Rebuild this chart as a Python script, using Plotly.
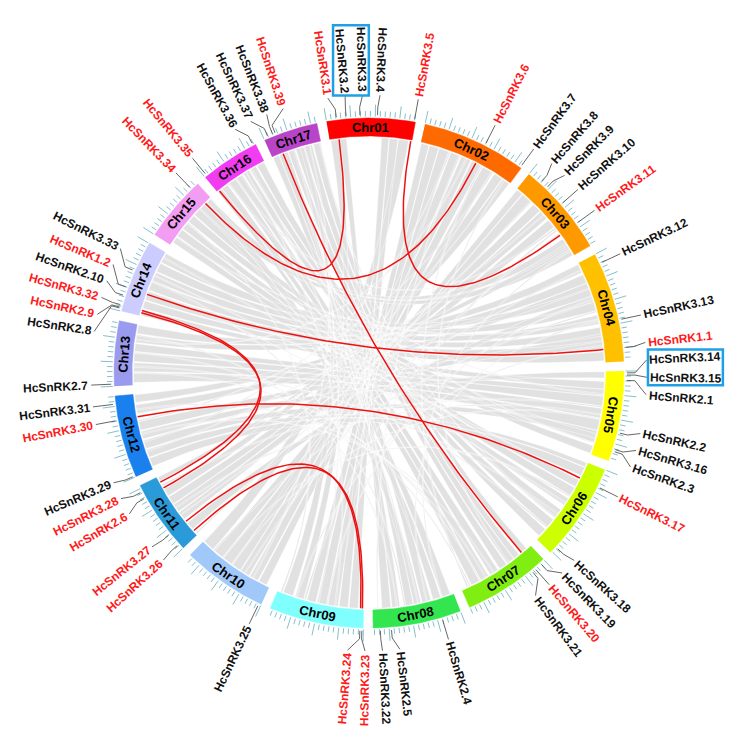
import math
import plotly.graph_objects as go

# ---------------- data ----------------
chrom_names = ["Chr01", "Chr02", "Chr03", "Chr04", "Chr05", "Chr06", "Chr07", "Chr08", "Chr09",
               "Chr10", "Chr11", "Chr12", "Chr13", "Chr14", "Chr15", "Chr16", "Chr17"]
chrom_lengths_mb = [36.5, 43.5, 38.7, 45.6, 37.3, 40.7, 36.2, 36.5, 39.1,
                    35.5, 31.1, 34.2, 26.9, 30.2, 27.3, 24.7, 22.5]
chrom_colors = ["#ff0000", "#ff6a00", "#ff9900", "#ffc000", "#ffff00", "#ccff00", "#80ee10", "#33e650", "#80ffff",
                "#a0c8f8", "#2a9ad8", "#1a80ee", "#9a9aee", "#ccccff", "#f29cf2", "#f23cf2", "#b845c8"]

gene_names = ["HcSnRK3.1", "HcSnRK3.2", "HcSnRK3.3", "HcSnRK3.4", "HcSnRK3.5",
              "HcSnRK3.6", "HcSnRK3.7",
              "HcSnRK3.8", "HcSnRK3.9", "HcSnRK3.10", "HcSnRK3.11",
              "HcSnRK3.12", "HcSnRK3.13", "HcSnRK1.1",
              "HcSnRK3.14", "HcSnRK3.15", "HcSnRK2.1", "HcSnRK2.2", "HcSnRK3.16", "HcSnRK2.3",
              "HcSnRK3.17", "HcSnRK3.18",
              "HcSnRK3.19", "HcSnRK3.20", "HcSnRK3.21",
              "HcSnRK2.4", "HcSnRK2.5", "HcSnRK3.22",
              "HcSnRK3.23", "HcSnRK3.24",
              "HcSnRK3.25",
              "HcSnRK3.26", "HcSnRK3.27", "HcSnRK2.6", "HcSnRK3.28",
              "HcSnRK3.29", "HcSnRK3.30", "HcSnRK3.31",
              "HcSnRK2.7",
              "HcSnRK2.8", "HcSnRK2.9", "HcSnRK3.32", "HcSnRK2.10", "HcSnRK1.2", "HcSnRK3.33",
              "HcSnRK3.34",
              "HcSnRK3.35", "HcSnRK3.36",
              "HcSnRK3.37", "HcSnRK3.38", "HcSnRK3.39"]
gene_chroms = ["Chr01"] * 5 + ["Chr02"] * 2 + ["Chr03"] * 4 + ["Chr04"] * 3 + ["Chr05"] * 6 + \
              ["Chr06"] * 2 + ["Chr07"] * 3 + ["Chr08"] * 3 + ["Chr09"] * 2 + ["Chr10"] + \
              ["Chr11"] * 4 + ["Chr12"] * 3 + ["Chr13"] + ["Chr14"] * 6 + ["Chr15"] + \
              ["Chr16"] * 2 + ["Chr17"] * 3
gene_pos_mb = [4.2, 8.2, 13.8, 20.9, 36.0,
               26.0, 43.0,
               5.8, 9.1, 18.0, 28.0,
               4.2, 28.5, 40.0,
               0.7, 1.6, 3.8, 25.3, 32.2, 33.1,
               7.6, 37.6,
               2.0, 5.1, 6.7,
               8.0, 29.1, 33.6,
               0.6, 1.4,
               1.0,
               2.4, 7.8, 25.6, 28.5,
               0.5, 24.2, 30.9,
               0.9,
               1.1, 1.5, 2.5, 6.5, 10.0, 17.3,
               24.0,
               1.0, 23.6,
               1.8, 4.0, 5.1]

# segmental duplication pairs (red links)
red_links = [("HcSnRK3.1", "HcSnRK3.35"), ("HcSnRK3.5", "HcSnRK3.11"), ("HcSnRK3.6", "HcSnRK3.34"),
             ("HcSnRK3.39", "HcSnRK3.20"), ("HcSnRK1.2", "HcSnRK1.1"), ("HcSnRK3.32", "HcSnRK3.28"),
             ("HcSnRK2.9", "HcSnRK2.6"), ("HcSnRK3.30", "HcSnRK3.17"), ("HcSnRK3.27", "HcSnRK3.24"),
             ("HcSnRK3.26", "HcSnRK3.23")]

# tandem duplication groups (boxed labels)
boxed_groups = [["HcSnRK3.2", "HcSnRK3.3"], ["HcSnRK3.14", "HcSnRK3.15"]]

# collinear blocks (grey ribbons): chromA, startA, endA, chromB, startB, endB (Mb)
gray_blocks = [
    ("Chr17", 7.5, 10.5, "Chr07", 13.5, 17.0), ("Chr17", 11.0, 14.5, "Chr07", 9.5, 13.0),
    ("Chr17", 15.0, 18.5, "Chr07", 6.5, 9.3), ("Chr17", 19.0, 22.3, "Chr07", 2.2, 4.8),
    ("Chr17", 0.3, 3.2, "Chr08", 18.5, 22.0), ("Chr17", 5.5, 7.3, "Chr08", 24.5, 28.0),
    ("Chr16", 2.5, 5.5, "Chr07", 27.5, 31.5), ("Chr16", 6.5, 10.0, "Chr07", 23.0, 27.0),
    ("Chr16", 10.5, 13.5, "Chr07", 18.0, 22.0),
    ("Chr16", 14.0, 17.0, "Chr06", 35.0, 39.0), ("Chr16", 17.5, 20.5, "Chr06", 29.5, 33.5),
    ("Chr16", 21.0, 24.5, "Chr06", 24.0, 28.0),
    ("Chr15", 1.5, 4.5, "Chr06", 18.0, 21.5), ("Chr15", 5.0, 8.5, "Chr06", 12.5, 16.5),
    ("Chr15", 9.0, 12.0, "Chr06", 8.5, 12.0),
    ("Chr15", 13.0, 16.5, "Chr05", 33.5, 37.0), ("Chr15", 17.0, 20.5, "Chr05", 28.0, 32.0),
    ("Chr15", 25.0, 27.3, "Chr03", 30.0, 33.5), ("Chr15", 21.0, 24.0, "Chr03", 34.5, 38.5),
    ("Chr14", 3.5, 7.0, "Chr04", 41.0, 45.0), ("Chr14", 7.5, 11.5, "Chr04", 36.0, 40.0),
    ("Chr14", 12.0, 16.0, "Chr04", 30.0, 34.0), ("Chr14", 16.5, 20.5, "Chr04", 24.5, 28.5),
    ("Chr14", 21.0, 25.0, "Chr04", 18.5, 22.5), ("Chr14", 25.5, 30.0, "Chr04", 12.0, 16.0),
    ("Chr14", 0.2, 3.0, "Chr05", 4.5, 8.0),
    ("Chr13", 1.2, 5.5, "Chr05", 21.5, 26.5), ("Chr13", 6.0, 10.0, "Chr05", 16.5, 21.0),
    ("Chr13", 10.5, 14.5, "Chr05", 11.0, 15.5), ("Chr13", 15.0, 18.5, "Chr05", 8.0, 11.0),
    ("Chr13", 19.0, 22.5, "Chr04", 5.5, 9.5), ("Chr13", 23.0, 26.8, "Chr04", 0.5, 4.5),
    ("Chr12", 1.2, 5.0, "Chr06", 2.5, 6.5), ("Chr12", 5.5, 9.0, "Chr06", 0.2, 2.3),
    ("Chr12", 9.5, 13.5, "Chr05", 26.5, 30.0), ("Chr12", 14.0, 17.5, "Chr05", 0.2, 3.0),
    ("Chr12", 18.0, 22.0, "Chr04", 33.0, 36.5), ("Chr12", 25.5, 29.5, "Chr04", 9.5, 12.5),
    ("Chr12", 30.5, 34.0, "Chr03", 32.5, 35.5),
    ("Chr11", 9.0, 12.8, "Chr03", 19.5, 23.5), ("Chr11", 13.2, 17.0, "Chr03", 14.5, 18.5),
    ("Chr11", 17.3, 21.0, "Chr03", 10.0, 14.0),
    ("Chr11", 21.5, 25.0, "Chr02", 35.5, 39.5), ("Chr11", 29.0, 31.0, "Chr02", 39.8, 43.3),
    ("Chr11", 3.3, 6.8, "Chr04", 15.5, 18.5),
    ("Chr10", 1.5, 5.3, "Chr02", 29.5, 34.0), ("Chr10", 5.8, 9.8, "Chr02", 24.0, 28.5),
    ("Chr10", 10.3, 14.5, "Chr02", 19.0, 23.5), ("Chr10", 14.8, 19.0, "Chr02", 14.0, 18.5),
    ("Chr10", 19.5, 24.0, "Chr03", 3.5, 8.0), ("Chr10", 24.5, 29.0, "Chr03", 0.3, 3.2),
    ("Chr10", 30.0, 35.3, "Chr01", 30.5, 35.0),
    ("Chr09", 2.5, 6.5, "Chr01", 26.5, 30.3), ("Chr09", 7.0, 11.0, "Chr01", 23.0, 26.3),
    ("Chr09", 11.5, 16.0, "Chr02", 8.5, 13.0), ("Chr09", 16.5, 21.0, "Chr02", 4.0, 8.3),
    ("Chr09", 21.5, 25.5, "Chr02", 0.3, 3.8),
    ("Chr09", 27.0, 31.0, "Chr01", 0.5, 4.0), ("Chr09", 32.0, 36.5, "Chr17", 13.0, 15.0),
    ("Chr08", 1.5, 5.5, "Chr16", 0.2, 2.4),
    ("Chr08", 6.0, 9.5, "Chr15", 23.5, 27.0), ("Chr08", 15.0, 18.3, "Chr15", 20.5, 23.5),
    ("Chr08", 10.5, 14.5, "Chr17", 3.0, 5.5),
    ("Chr08", 28.5, 32.5, "Chr01", 4.5, 7.5),
    ("Chr02", 28.5, 29.2, "Chr07", 33.0, 33.7), ("Chr03", 25.0, 25.7, "Chr09", 26.0, 26.8),
    ("Chr04", 22.5, 23.2, "Chr10", 29.0, 29.7), ("Chr05", 15.5, 16.2, "Chr11", 26.5, 27.2),
    ("Chr06", 27.8, 28.5, "Chr17", 21.8, 22.4), ("Chr16", 9.8, 10.4, "Chr03", 24.0, 24.7),
    ("Chr14", 15.8, 16.5, "Chr08", 22.0, 22.7), ("Chr13", 14.2, 14.8, "Chr07", 32.0, 32.6),
    ("Chr12", 22.0, 22.7, "Chr02", 34.0, 34.7), ("Chr15", 12.0, 12.6, "Chr09", 37.0, 37.7),
    ("Chr02", 13.0, 13.7, "Chr12", 12.5, 13.2), ("Chr04", 17.0, 17.6, "Chr09", 16.0, 16.7),
    ("Chr06", 33.5, 34.1, "Chr14", 11.5, 12.1), ("Chr07", 26.8, 27.4, "Chr13", 5.2, 5.8),
    ("Chr05", 20.8, 21.4, "Chr10", 19.0, 19.6), ("Chr03", 8.0, 8.6, "Chr11", 0.5, 1.1),
    ("Chr16", 12.8, 13.4, "Chr05", 31.8, 32.4), ("Chr02", 17.6, 18.2, "Chr08", 34.0, 34.6),
    ("Chr06", 16.5, 17.1, "Chr10", 24.0, 24.6), ("Chr04", 27.0, 27.6, "Chr08", 12.0, 12.6),
    ("Chr02", 21.0, 21.6, "Chr13", 20.0, 20.6), ("Chr03", 27.0, 27.6, "Chr10", 12.0, 12.6),
    ("Chr04", 38.0, 38.6, "Chr09", 30.0, 30.6), ("Chr05", 10.0, 10.6, "Chr16", 6.0, 6.6),
    ("Chr06", 20.0, 20.6, "Chr14", 18.5, 19.1), ("Chr07", 20.0, 20.6, "Chr12", 16.0, 16.6),
    ("Chr08", 25.5, 26.1, "Chr13", 22.0, 22.6), ("Chr09", 12.5, 13.1, "Chr16", 15.0, 15.6),
    ("Chr10", 8.0, 8.6, "Chr17", 17.0, 17.6), ("Chr11", 15.0, 15.6, "Chr05", 19.0, 19.6),
    ("Chr12", 8.0, 8.6, "Chr03", 16.0, 16.6), ("Chr14", 27.5, 28.1, "Chr06", 8.0, 8.6),
    ("Chr15", 4.0, 4.6, "Chr04", 26.0, 26.6), ("Chr16", 18.0, 18.6, "Chr08", 16.0, 16.6),
    ("Chr17", 10.0, 10.6, "Chr09", 20.0, 20.6), ("Chr02", 40.5, 41.1, "Chr07", 12.0, 12.6),
    ("Chr03", 36.0, 36.6, "Chr08", 5.0, 5.6), ("Chr04", 3.0, 3.6, "Chr11", 11.0, 11.6),
    ("Chr13", 8.0, 8.6, "Chr06", 26.0, 26.6), ("Chr12", 27.0, 27.6, "Chr07", 24.0, 24.6),
]

# ---------------- layout constants ----------------
W, H = 735, 732
CX, CY = 361.0, 365.0
R_OUT, R_IN, R_LINK = 255.0, 237.0, 235.5
R_LABEL = 281.0
START_DEG, GAP_DEG = -9.6, 2.2
MINOR_MB, MAJOR_MB = 2, 10
FONT = "Liberation Sans, Arial, sans-serif"
LABEL_SIZE = 12
MIN_SEP = 3.6

deg_per_mb = (360.0 - GAP_DEG * len(chrom_names)) / sum(chrom_lengths_mb)
chrom_start = {}
a = START_DEG
for n, l in zip(chrom_names, chrom_lengths_mb):
    chrom_start[n] = a
    a += l * deg_per_mb + GAP_DEG


def ang(ch, mb):
    return chrom_start[ch] + mb * deg_per_mb


def pt(r, deg):
    t = math.radians(deg)
    return CX + r * math.sin(t), CY - r * math.cos(t)


def arc(r, d0, d1, step=0.3):
    n = max(2, int(abs(d1 - d0) / step) + 2)
    return [pt(r, d0 + (d1 - d0) * i / (n - 1)) for i in range(n)]


def bez(p0, p2, n=40):
    out = []
    for i in range(n + 1):
        t = i / n
        x = (1 - t) ** 2 * p0[0] + 2 * (1 - t) * t * CX + t ** 2 * p2[0]
        y = (1 - t) ** 2 * p0[1] + 2 * (1 - t) * t * CY + t ** 2 * p2[1]
        out.append((x, y))
    return out


# Arial Bold advance widths (em)
AW = {'H': .722, 'c': .556, 'S': .667, 'n': .611, 'R': .722, 'K': .722, '.': .278}


def text_w(s, size):
    return sum(AW.get(ch, .556) for ch in s) * size


fig = go.Figure()

# grey ribbons
gx, gy = [], []
for ca, a1, a2, cb, b1, b2 in gray_blocks:
    A1, A2, B1, B2 = ang(ca, a1), ang(ca, a2), ang(cb, b1), ang(cb, b2)
    pts = arc(R_LINK, A1, A2) + bez(pt(R_LINK, A2), pt(R_LINK, B1)) + arc(R_LINK, B1, B2) + \
        bez(pt(R_LINK, B2), pt(R_LINK, A1))
    gx += [p[0] for p in pts] + [None]
    gy += [p[1] for p in pts] + [None]
fig.add_trace(go.Scatter(x=gx, y=gy, mode="lines", fill="toself", fillcolor="#e1e1e1",
                         line=dict(color="#ffffff", width=0.45), hoverinfo="skip"))

gene_angle = {g: ang(c, p) for g, c, p in zip(gene_names, gene_chroms, gene_pos_mb)}
red_genes = set(g for pair in red_links for g in pair)

# red links
rx, ry = [], []
for g1, g2 in red_links:
    pts = bez(pt(R_LINK, gene_angle[g1]), pt(R_LINK, gene_angle[g2]), 80)
    rx += [p[0] for p in pts] + [None]
    ry += [p[1] for p in pts] + [None]
fig.add_trace(go.Scatter(x=rx, y=ry, mode="lines", line=dict(color="#ee1111", width=1.5), hoverinfo="skip"))

# chromosome ring
for n, l, col in zip(chrom_names, chrom_lengths_mb, chrom_colors):
    s, e = chrom_start[n], chrom_start[n] + l * deg_per_mb
    pts = arc(R_OUT, s, e) + arc(R_IN, e, s)
    fig.add_trace(go.Scatter(x=[p[0] for p in pts], y=[p[1] for p in pts], mode="lines", fill="toself",
                             fillcolor=col, line=dict(color=col, width=0.5), hoverinfo="skip"))

# ticks
tx, ty = [], []
for n, l in zip(chrom_names, chrom_lengths_mb):
    mb = 0
    while mb <= l + 1e-9:
        d = ang(n, mb)
        r1 = R_OUT + (13.5 if mb % MAJOR_MB == 0 else 7)
        p0, p1 = pt(R_OUT + 1.5, d), pt(r1, d)
        tx += [p0[0], p1[0], None]
        ty += [p0[1], p1[1], None]
        mb += MINOR_MB
fig.add_trace(go.Scatter(x=tx, y=ty, mode="lines", line=dict(color="#86c0cc", width=1), hoverinfo="skip"))

# label angles with simple repulsion
order = sorted(gene_names, key=lambda g: gene_angle[g])
la = [gene_angle[g] for g in order]
for _ in range(3000):
    moved = False
    for i in range(1, len(la)):
        d = la[i] - la[i - 1]
        if d < MIN_SEP - 1e-6:
            sh = (MIN_SEP - d) / 2
            la[i - 1] -= sh
            la[i] += sh
            moved = True
    if not moved:
        break
label_angle = dict(zip(order, la))

annotations = []
cx_, cy_ = [], []
label_box = {}
for g in gene_names:
    tg, tl = gene_angle[g], label_angle[g]
    p0, p1, p2 = pt(R_OUT + 3, tg), pt(R_OUT + 11, tg), pt(R_LABEL - 3, tl)
    cx_ += [p0[0], p1[0], p2[0], None]
    cy_ += [p0[1], p1[1], p2[1], None]
    right = 4 <= (tg % 360) < 181
    ta = tl - 90 if right else tl - 270
    ta = (ta + 180) % 360 - 180
    w = text_w(g, LABEL_SIZE)
    c = pt(R_LABEL + w / 2, tl)
    annotations.append(dict(x=c[0], y=c[1], xref="x", yref="y", text=g, showarrow=False,
                            textangle=ta, xanchor="center", yanchor="middle",
                            font=dict(family=FONT, size=LABEL_SIZE, weight="bold",
                                      color="#ff1a1a" if g in red_genes else "#111111")))
    hh = LABEL_SIZE * 0.8
    phi = math.radians(ta)
    xs, ys = [], []
    for dx, dy in [(-w / 2, -hh / 2), (w / 2, -hh / 2), (w / 2, hh / 2), (-w / 2, hh / 2)]:
        xs.append(c[0] + dx * math.cos(phi) - dy * math.sin(phi))
        ys.append(c[1] + dx * math.sin(phi) + dy * math.cos(phi))
    label_box[g] = (min(xs), min(ys), max(xs), max(ys))

fig.add_trace(go.Scatter(x=cx_, y=cy_, mode="lines", line=dict(color="#555555", width=0.9), hoverinfo="skip"))

# chromosome names
for n, l in zip(chrom_names, chrom_lengths_mb):
    m = chrom_start[n] + l * deg_per_mb / 2
    mm = m % 360
    ta = mm - 180 if 105 < mm < 265 else mm
    ta = (ta + 180) % 360 - 180
    c = pt((R_IN + R_OUT) / 2, m)
    annotations.append(dict(x=c[0], y=c[1], xref="x", yref="y", text=n, showarrow=False, textangle=ta,
                            xanchor="center", yanchor="middle",
                            font=dict(family=FONT, size=13, color="#000000", weight="bold")))

shapes = []
for grp in boxed_groups:
    x0 = min(label_box[g][0] for g in grp) - 1.5
    y0 = min(label_box[g][1] for g in grp) - 2
    x1 = max(label_box[g][2] for g in grp) + 1.5
    y1 = max(label_box[g][3] for g in grp) + 2
    shapes.append(dict(type="rect", xref="x", yref="y", x0=x0, y0=y0, x1=x1, y1=y1,
                       line=dict(color="#1ea0e6", width=2.5), fillcolor="rgba(0,0,0,0)"))

fig.update_layout(width=W, height=H, autosize=False, margin=dict(l=0, r=0, t=0, b=0),
                  paper_bgcolor="white", plot_bgcolor="white", showlegend=False,
                  annotations=annotations, shapes=shapes, hovermode=False,
                  xaxis=dict(range=[0, W], visible=False, fixedrange=True),
                  yaxis=dict(range=[H, 0], visible=False, fixedrange=True))
fig.write_html("out.html")
